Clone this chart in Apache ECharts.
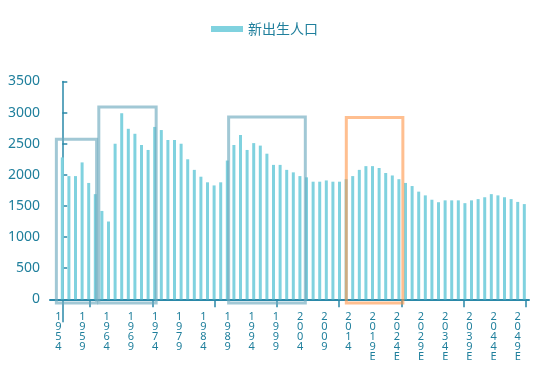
<!DOCTYPE html>
<html>
<head>
<meta charset="utf-8">
<script src="https://cdn.jsdelivr.net/npm/echarts@6/dist/echarts.min.js"></script>
<style>html,body{margin:0;padding:0;background:#fff;}#c{width:549px;height:370px;}</style>
</head>
<body>
<div id="c"></div>
<script>
// ---- data ----
var seriesName = '新出生人口';
var births = [2280, 1980, 1980, 2200, 1870, 1690, 1420, 1250, 2500, 2990,
              2740, 2660, 2480, 2400, 2770, 2720, 2560, 2560, 2500, 2250,
              2080, 1970, 1880, 1830, 1880, 2230, 2480, 2640, 2400, 2510,
              2470, 2340, 2160, 2160, 2080, 2040, 1980, 1960, 1890, 1890,
              1910, 1890, 1890, 1930, 1980, 2080, 2140, 2140, 2110, 2030,
              1990, 1930, 1870, 1820, 1730, 1670, 1600, 1560, 1590, 1590,
              1590, 1545, 1590, 1610, 1640, 1690, 1670, 1640, 1610, 1565, 1530];
var yearLabels = ['1954','1959','1964','1969','1974','1979','1984','1989','1994','1999',
                  '2004','2009','2014','2019E','2024E','2029E','2034E','2039E','2044E','2049E'];
var yTickValues = [0, 500, 1000, 1500, 2000, 2500, 3000, 3500];
// highlight boxes: [fromBar, toBar, topValue]
var boxFrom = [-0.9, 5.53, 25.2, 43.03];
var boxTo = [5.2, 14.22, 36.82, 51.6];
var boxTop = [2570, 3090, 2930, 2920];

// ---- style / layout ----
var teal = '#1f7f9c';
var axisColor = '#2a88a8';
var barColor = '#80d2df';
var boxColors = ['rgba(110,170,190,0.65)', 'rgba(110,170,190,0.65)', 'rgba(110,170,190,0.65)', 'rgba(255,148,70,0.6)'];
var barMin = -1.864, barMax = 70.71;
var yearMin = 1952.28, yearMax = 2051.33;
var tickStart = 4.197, tickStep = 9.44, tickCount = 8;
var boxBottom = -60;

var tickVals = [];
for (var k = 0; k < tickCount; k++) tickVals.push(tickStart + k * tickStep);
var yearVals = yearLabels.map(function (s) { return parseInt(s, 10); });

var areaData = boxFrom.map(function (f, i) {
  return [
    { xAxis: f, yAxis: boxBottom, itemStyle: { color: 'transparent', borderColor: boxColors[i], borderWidth: 3 } },
    { xAxis: boxTo[i], yAxis: boxTop[i] }
  ];
});

var chart = echarts.init(document.getElementById('c'));
chart.setOption({
  animation: false,
  legend: {
    data: [seriesName],
    left: 206, top: 17,
    icon: 'rect', itemWidth: 32, itemHeight: 6, itemGap: 10,
    textStyle: { color: teal, fontSize: 14, fontFamily: 'Noto Sans CJK SC' }
  },
  grid: { left: 50, right: 20, top: 81.5, bottom: 48.3, containLabel: false, outerBoundsMode: 'none' },
  xAxis: [{
    type: 'value', min: barMin, max: barMax,
    axisLine: { onZero: true, lineStyle: { color: axisColor, width: 2 } },
    axisTick: { show: true, customValues: tickVals, length: 8, lineStyle: { color: axisColor, width: 1.5 } },
    axisLabel: { show: false },
    splitLine: { show: false }
  }, {
    type: 'value', min: yearMin, max: yearMax, position: 'bottom', offset: -22.7,
    axisLine: { show: false, onZero: false },
    axisTick: { show: false },
    splitLine: { show: false },
    axisLabel: {
      customValues: yearVals, margin: 13,
      color: teal, fontSize: 11, lineHeight: 10, fontFamily: 'Noto Sans',
      formatter: function (v) {
        var i = yearVals.indexOf(Math.round(v));
        return i < 0 ? '' : yearLabels[i].split('').join('\n');
      }
    }
  }],
  yAxis: {
    type: 'value', min: -360, max: 3500,
    axisLine: { show: true, lineStyle: { color: axisColor, width: 1.5 } },
    axisTick: { show: true, inside: true, length: 5, customValues: yTickValues, lineStyle: { color: axisColor, width: 1.5 } },
    axisLabel: {
      customValues: yTickValues, margin: 10, color: teal, fontSize: 14, fontFamily: 'Noto Sans',
      formatter: function (v) { return String(v); }
    },
    splitLine: { show: false }
  },
  series: [{
    name: seriesName, type: 'bar', xAxisIndex: 0,
    barWidth: 3,
    itemStyle: { color: barColor },
    data: births.map(function (v, i) { return [i, v]; }),
    markArea: {
      silent: true, z: 5,
      label: { show: false },
      data: areaData
    }
  }]
});
</script>
</body>
</html>
